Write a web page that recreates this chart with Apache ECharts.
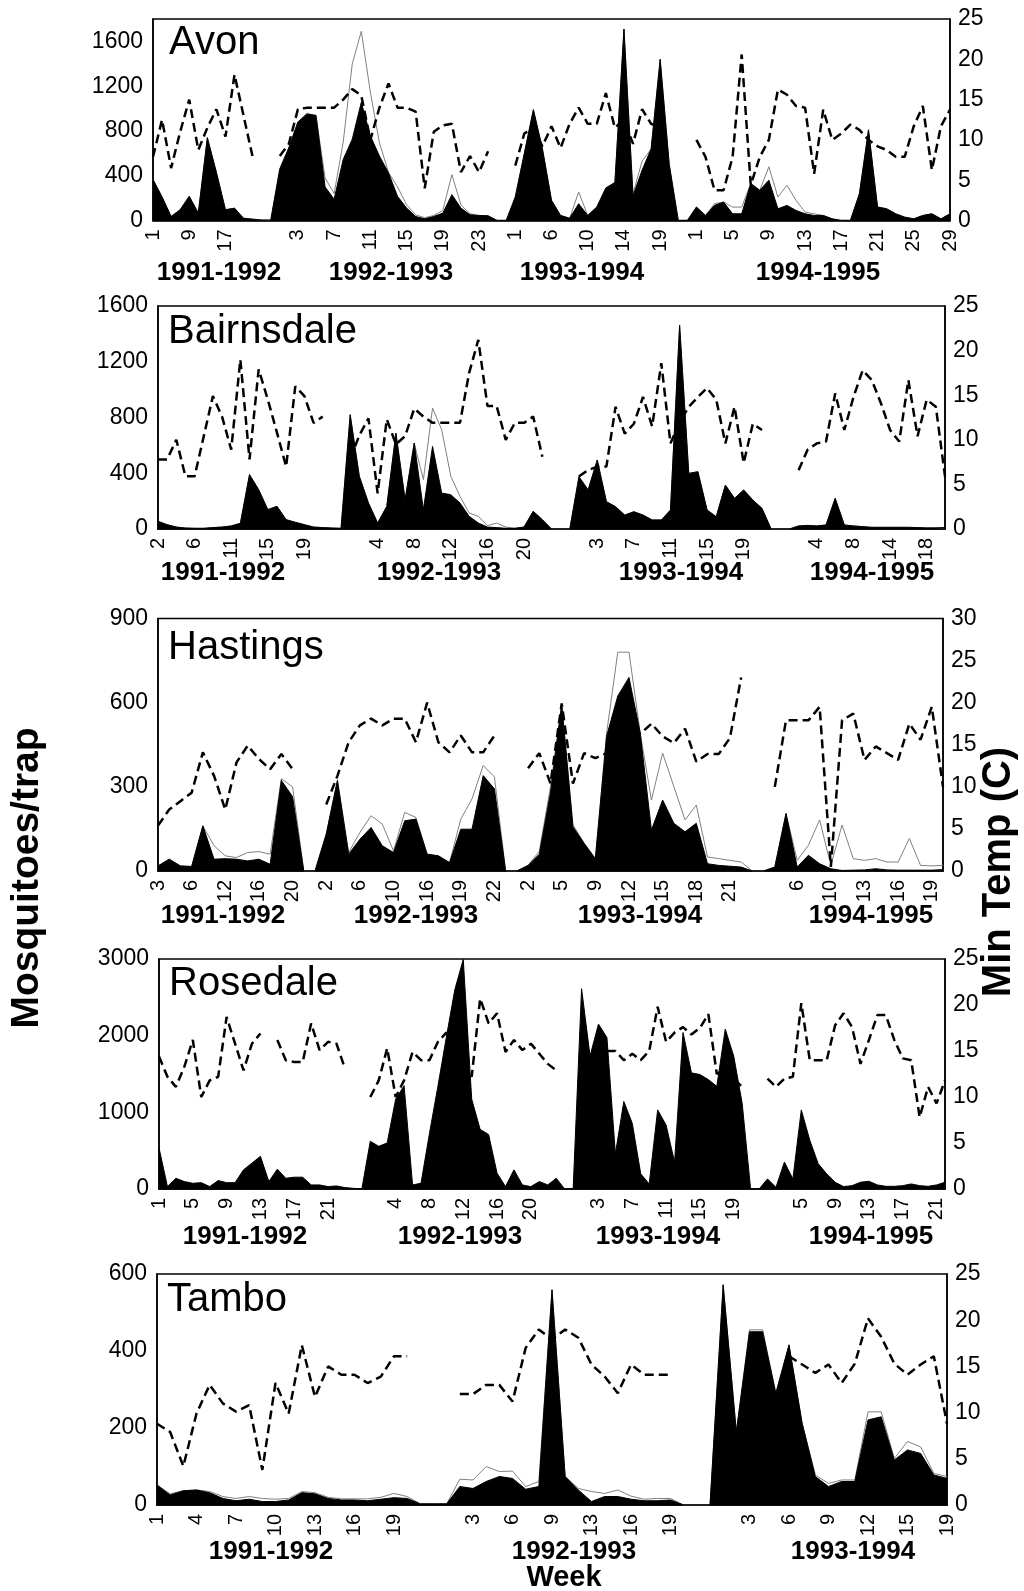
<!DOCTYPE html>
<html><head><meta charset="utf-8">
<script src="https://cdn.jsdelivr.net/npm/echarts@6.0.0/dist/echarts.min.js"></script>
<style>html,body{margin:0;padding:0;background:#fff}#c{width:1024px;height:1591px}</style>
</head><body><div id="c"></div><script>
// ---------------- DATA ----------------
const seasons4 = ['1991-1992','1992-1993','1993-1994','1994-1995'];
const seasons3 = ['1991-1992','1992-1993','1993-1994'];

// Avon (89 samples)
const avonWeeks = ['1','','','', '9','','','', '17','','','', '','','','', '3','','','', '7','','','', '11','','','', '15','','','', '19','','','', '23','','','', '1','','','', '6','','','', '10','','','', '14','','','', '19','','','', '1','','','', '5','','','', '9','','','', '13','','','', '17','','','', '21','','','', '25','','','', '29'];
const avonMosq = [366,210,36,96,216,66,740,430,96,110,20,12, 4,3,
  460,650,880,950,940,300,190,546,726,1056,756,576,426,216,111,36,15,36,66,231,111,51,45,42, 0,0,
  210,600,990,640,180,45,20,150,45,120,290,340,1710,220,450,640,1440,500, 0,0,
  120,45,135,165,60,60,330,270,360,105,135,90,60,45,45,15,0,0,240,810,120,105,60,30,15,45,60,15,60];
const avonTotal = [366,210,36,96,216,66,740,430,96,110,20,12, 4,3,
  460,650,880,960,930,380,240,700,1400,1690,1146,696,430,300,140,50,25,45,90,410,140,60,45,42, 0,0,
  210,600,990,640,180,45,20,255,45,120,290,340,1710,240,530,640,1440,500, 0,0,
  120,45,150,165,120,120,330,270,480,210,315,180,75,60,45,15,0,0,240,810,120,105,60,30,15,45,60,15,60];
const avonTemp = [7.9,12.5,6.5,11,15,8.75,11.5,13.8,10.4,18.1,13,7.9, null,null,
  8,9.5,13.8,14,14,14,14,15,16.3,15.5,10,14,17,14,14,13.5,4,11,11.8,12,6,8,6,8.6, null,null,
  6.8,10.8,11.5,9.2,11.7,9,12,14,12,12,15.8,11.5,12.5,9.5,13.8,12,11.5,null, null,null,
  10,7.9,3.75,3.75,7.9,20.6,4.4,7.9,10,16.25,15.6,14.2,14,5.8,13.75,10,10.8,11.9,11.25,10,9.2,8.75,7.9,7.9,11.7,14.2,6.25,11.7,13.75];

// Bairnsdale (87 samples)
const bairWeeks = ['2','','','', '6','','','', '11','','','', '15','','','', '19','','','', '','','','', '4','','','', '8','','','', '12','','','', '16','','','', '20','','','', '','','','', '3','','','', '7','','','', '11','','','', '15','','','', '19','','','', '','','','', '4','','','', '8','','','', '14','','','', '18','',''];
const bairMosq = [55,31,14,7,5,5,10,14,22,41,390,282,139,163,67,48,31,14,10,7,5,
  820,378,186,43,162,688,210,617,139,593,258,246,186,91,43,14,10,5,5,14,127,67, 0,0,0,
  375,280,495,196,160,100,124,100,65,65,136,1463,399,411,136,88,315,220,280,208,148, 0,0,0,
  22,26,22,29,220,29,22,17,12,12,12,12,12,10,8,8,10];
const bairTotal = [55,31,14,7,5,5,10,14,22,41,390,282,139,163,67,48,31,14,10,7,5,
  820,378,186,43,162,688,210,617,354,868,712,378,234,115,91,24,43,14,5,14,127,67, 0,0,0,
  375,280,495,196,160,100,124,100,65,65,136,1463,399,411,136,88,315,220,280,208,148, 0,0,0,
  22,26,22,29,220,29,22,17,12,12,12,12,12,10,8,8,10];
const bairTemp = [7.8,7.8,10,5.9,5.9,10.4,14.9,12.6,8.9,19,7.8,17.9,14.5,10.8,7,16,14.9,11.9,12.6,null,null,
  7.8,10.5,12.4,4,12.3,9.5,10.4,13.5,12.6,11.9,11.9,11.9,11.9,17.5,21.2,13.8,13.8,10,11.9,11.9,12.6,8.1, null,null,null,
  5.9,6.6,7,7,13.7,10.7,11.8,14.8,11.5,18.6,9.6,12,13.7,14.8,15.8,14.5,9.6,13.7,7.4,11.8,11.1, null,null,null,
  6.6,8.9,9.6,9.8,15.2,11.1,14.8,17.8,16.7,14.1,11.1,9.8,16.7,10.4,14.5,13.7,5.9];

// Hastings (71 samples)
const hastWeeks = ['3','','', '6','','', '12','','', '16','','', '20','','', '2','','', '6','','', '10','','', '16','','', '19','','', '22','','', '2','','', '5','','', '9','','', '12','','', '15','','', '18','','', '21','','', '','','', '6','','', '10','','', '13','','', '16','','', '19',''];
const hastMosq = [18,42,18,16,161,42,44,42,36,42,24,323,265, 0,0,
  131,323,60,113,155,90,66,179,185,60,54,30,149,149,340,293, 0,0,
  20,60,280,594,158,98,44,480,624,690,492,146,253,170,140,170,26,20,17,14, 0,0,
  14,205,14,56,26,8,2,3,4,8,4,3,3,3,3,5];
const hastTotal = [18,42,18,16,161,90,54,48,66,69,60,329,300, 0,0,
  131,323,66,137,197,167,72,209,191,60,54,30,185,257,376,335, 0,0,
  20,70,300,594,165,100,44,490,780,780,492,253,420,301,182,235,50,44,38,32, 0,0,
  14,205,38,92,182,20,164,44,38,44,32,32,116,20,18,20];
const hastTemp = [5.4,7.3,8.3,9.3,14.1,11.3,7.3,12.9,14.9,13.3,12.1,13.9,12.1, null,null,
  7.9,11.3,15.3,17.3,18.1,17.3,18.1,18.1,15.3,20,15.3,14.1,16.1,14.1,14.1,16.1, null,null,
  12.2,14,10.4,19.9,10.4,14,13.4,14,16,17,16.3,17.5,16,15.2,16.9,13,13.9,13.9,15.8,23, null,null,
  10,17.9,17.9,17.9,19.5,0.5,17.9,18.7,13.2,14.8,14,13.2,17.5,15.6,19.5,10];

// Rosedale (94 samples)
const roseWeeks = ['1','','','', '5','','','', '9','','','', '13','','','', '17','','','', '21','','','', '','','','', '4','','','', '8','','','', '12','','','', '16','','','', '20','','','', '','','','', '3','','','', '7','','','', '11','','','', '15','','','', '19','','','', '','','','', '5','','','', '9','','','', '13','','','', '17','','','', '21',''];
const roseMosq = [536,31,140,97,75,83,31,110,83,83,250,338,426,97,259,140,154,154,53,53,31,40,18,9, 0,
  623,557,601,1172,1348,53,75,724,1339,1980,2600,2994,1172,777,711,206,31,250,53,31,97,53,140, 0,0,
  2612,1734,2151,1975,461,1141,856,198,66,1032,834,351,2041,1515,1493,1427,1339,2085,1734,1119, 0,0,
  132,22,351,132,1032,637,329,198,88,31,44,88,101,53,35,35,44,66,44,35,53,88];
const roseTemp = [14.4,12.2,11.1,13.3,16.2,10,11.8,12.2,18.7,15.8,12.9,15.8,16.9,null,16.2,14,13.8,13.8,18,15.1,16,15.8,13.1,null, null,
  10,11.8,15.3,10,11.8,14.9,14,14,16,17,16,14,12.2,20.7,18,19.1,14.9,16.2,15.1,15.8,14.7,13.6,12.9, null,null,
  null,null,null,15,15,14,14.7,14,15,19.8,16,17,17.6,16.8,17.5,19,12.5,13,12,11.1, null,null,
  12,11.1,12,12.2,20.2,14,14,14,17.8,19.1,17.6,13.6,16.2,18.9,18.9,16.2,14.2,14,7.8,11.1,9.3,11.8];

// Tambo (61 samples)
const tamWeeks = ['1','','', '4','','', '7','','', '10','','', '13','','', '16','','', '19','','', '','','', '3','','', '6','','', '9','','', '13','','', '16','','', '19','','', '','','', '3','','', '6','','', '9','','', '12','','', '15','','', '19'];
const tamMosq = [52,26,37,39,32,17,11,15,9,9,13,32,29,17,13,13,11,15,19,17, 3,3,3,
  48,43,61,74,69,41,48,559,74,39,9,22,22,15,11,11,13, 0,0,0,
  572,190,450,450,290,416,212,74,48,61,61,221,229,117,143,134,78,69];
const tamTotal = [52,29,37,39,35,22,17,22,17,15,17,35,32,20,16,16,16,20,30,22, 3,3,3,
  67,65,100,87,88,48,61,559,74,43,35,30,39,23,15,17,17, 0,0,0,
  572,190,455,455,290,416,212,78,56,65,65,242,242,121,165,151,82,74];
const tamTemp = [8.8,7.9,4.2,9.9,13,11,10.1,10.8,3.8,13.2,9.9,17.3,11.7,15,14.1,14.1,13.2,13.9,16.1,16.1, null,null,null,
  12,12,13,13,11.2,17,19,17.9,19,18.1,15.2,13.9,12.1,15.2,14.1,14.1,14.1, null,null,null,
  null,null,null,null,null,16.1,15.2,14.3,15.2,13.2,15.3,20.2,18.2,15.3,14.1,15.2,16.1,8.8];

// axis ranges
const leftMax = [1800, 1600, 900, 3000, 600];
const leftStep = [400, 400, 300, 1000, 200];
const rightMax = [25, 25, 30, 25, 25];
const siteNames = ['Avon','Bairnsdale','Hastings','Rosedale','Tambo'];

// ---------------- LAYOUT ----------------
const FONT = '"Liberation Sans", Arial, Helvetica, sans-serif';
const gridBoxes = [
  {left:153, top:19, width:797, height:201.5},
  {left:158, top:306, width:787, height:223},
  {left:158, top:618.5, width:785, height:252.5},
  {left:159, top:959, width:786, height:230},
  {left:157, top:1274, width:790, height:231}
];
const titleY = [42.5, 331.5, 648, 984, 1300];
const seasonX = [[219,391,582,818],[223,439,681,872],[223,416,640,871],[245,460,658,871],[271,574,853]];
const seasonY = [273, 573, 916, 1237, 1552];

const panels = [
  {weeks:avonWeeks, mosq:avonMosq, total:avonTotal, temp:avonTemp, seasons:seasons4},
  {weeks:bairWeeks, mosq:bairMosq, total:bairTotal, temp:bairTemp, seasons:seasons4},
  {weeks:hastWeeks, mosq:hastMosq, total:hastTotal, temp:hastTemp, seasons:seasons4},
  {weeks:roseWeeks, mosq:roseMosq, total:null, temp:roseTemp, seasons:seasons4},
  {weeks:tamWeeks, mosq:tamMosq, total:tamTotal, temp:tamTemp, seasons:seasons3}
];

function txt(text, x, y, size, weight, align, rot) {
  return {type:'text', x:x, y:y, rotation: rot || 0, z:100,
    style:{text:text, font: weight + ' ' + size + 'px ' + FONT, fill:'#000',
      align:align, textAlign:align, verticalAlign:'middle', textVerticalAlign:'middle'}};
}
const plain = function(v) { return String(v); };

const option = {animation:false, backgroundColor:'#fff', grid:[], xAxis:[], yAxis:[], series:[], graphic:[]};
panels.forEach(function(p, k) {
  const g = gridBoxes[k];
  option.grid.push({left:g.left, top:g.top, width:g.width, height:g.height, show:true,
    borderColor:'#000', borderWidth:1.5, backgroundColor:'transparent', containLabel:false, outerBoundsMode:'none'});
  option.xAxis.push({type:'category', gridIndex:k, data:p.weeks, boundaryGap:false,
    axisLine:{show:true, onZero:false, lineStyle:{color:'#000', width:1.5}},
    axisTick:{show:false}, splitLine:{show:false},
    axisLabel:{interval:0, rotate:90, margin:9, fontSize:20, color:'#000', fontFamily:FONT, hideOverlap:false}});
  option.yAxis.push({type:'value', gridIndex:k, position:'left', min:0, max:leftMax[k], interval:leftStep[k],
    axisLine:{show:true, lineStyle:{color:'#000', width:1.5}}, axisTick:{show:false}, splitLine:{show:false},
    axisLabel:{formatter:plain, showMaxLabel: leftMax[k] % leftStep[k] === 0, fontSize:23, color:'#000', margin:10, fontFamily:FONT}});
  option.yAxis.push({type:'value', gridIndex:k, position:'right', min:0, max:rightMax[k], interval:5,
    axisLine:{show:true, lineStyle:{color:'#000', width:1.5}}, axisTick:{show:false}, splitLine:{show:false},
    axisLabel:{formatter:plain, fontSize:23, color:'#000', margin:8, fontFamily:FONT}});
  if (p.total) {
    option.series.push({type:'line', xAxisIndex:k, yAxisIndex:2*k, data:p.total, symbol:'none', silent:true,
      lineStyle:{color:'#808080', width:1}, z:2});
  }
  option.series.push({type:'line', xAxisIndex:k, yAxisIndex:2*k, data:p.mosq, symbol:'none', silent:true,
    lineStyle:{color:'#000', width:1}, areaStyle:{color:'#000', opacity:1}, z:3});
  option.series.push({type:'line', xAxisIndex:k, yAxisIndex:2*k+1, data:p.temp, symbol:'none', silent:true,
    connectNulls:false, lineStyle:{color:'#000', width:2.5, type:[9,5]}, z:4});
  option.graphic.push(txt(siteNames[k], g.left + (k === 0 ? 16 : 10), titleY[k], 40, 'normal', 'left'));
  p.seasons.forEach(function(s, j) {
    option.graphic.push(txt(s, seasonX[k][j], seasonY[k], 26, 'bold', 'center'));
  });
});
option.graphic.push(txt('Mosquitoes/trap', 27, 878, 39, 'bold', 'center', Math.PI/2));
option.graphic.push(txt('Min Temp (C)', 999, 872, 40, 'bold', 'center', Math.PI/2));
option.graphic.push(txt('Week', 564, 1578, 29, 'bold', 'center'));

const chart = echarts.init(document.getElementById('c'), null, {renderer:'canvas', width:1024, height:1591});
chart.setOption(option);
</script></body></html>
